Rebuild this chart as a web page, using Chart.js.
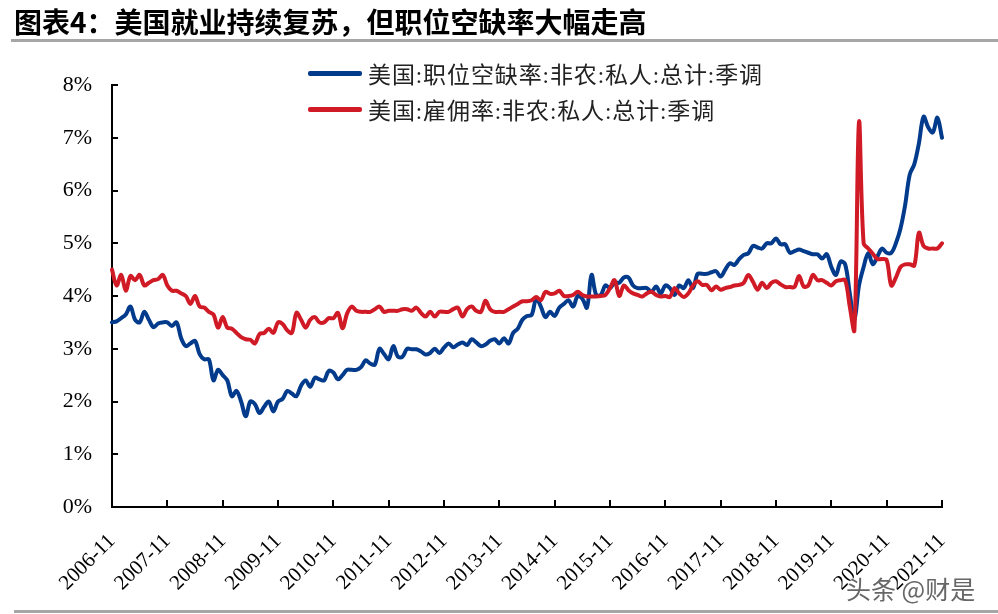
<!DOCTYPE html>
<html>
<head>
<meta charset="utf-8">
<script src="https://cdn.jsdelivr.net/npm/chart.js@4.4.0/dist/chart.umd.min.js"></script>
<style>
  html, body { margin: 0; padding: 0; background: #fff; }
  #wrap { position: relative; width: 998px; height: 614px; overflow: hidden; }
  #title {
    position: absolute; left: 14px; top: 1px;
    font-family: "Noto Sans CJK SC", sans-serif; font-weight: bold;
    font-size: 28px; color: #000; white-space: nowrap;
  }
  #topLine { position: absolute; left: 11px; right: 0; top: 39px; height: 3px; background: #a6a6a6; }
  #bottomLine { position: absolute; left: 14px; right: 0; top: 610px; height: 3px; background: #a6a6a6; }
  #legend { position: absolute; left: 308px; top: 55px; }
  .item { height: 36px; display: flex; align-items: center; white-space: nowrap; }
  .swatch { width: 54px; height: 5px; border-radius: 2px; margin-right: 6px; }
  .label { font-family: "Liberation Serif", "Noto Sans CJK SC", serif; font-size: 23px; color: #222; letter-spacing: 0.9px; }
  #mark {
    position: absolute; left: 846px; top: 570px;
    font-family: "Noto Sans CJK SC", sans-serif; font-size: 25px; color: #666;
    text-shadow: 0 0 2px #fff, 0 0 2px #fff, 0 0 3px #fff; white-space: nowrap;
  }
  #chartBox { position: absolute; left: 0; top: 0; width: 998px; height: 614px; }
</style>
</head>
<body>
<div id="wrap">
  <div id="chartBox"><canvas id="chart" width="998" height="614"></canvas></div>
  <div id="title">图表4：美国就业持续复苏，但职位空缺率大幅走高</div>
  <div id="topLine"></div>
  <div id="legend"></div>
  <div id="mark">头条 @财是</div>
  <div id="bottomLine"></div>
</div>
<script>
// months 2006-11 .. 2021-11
const startYear = 2006, startMonth = 11, monthCount = 181;
const months = [];
for (let i = 0; i < monthCount; i++) {
  const t = startMonth - 1 + i;
  months.push((startYear + Math.floor(t / 12)) + '-' + String(t % 12 + 1).padStart(2, '0'));
}
const yTicks = [0, 1, 2, 3, 4, 5, 6, 7, 8];

// 美国:职位空缺率:非农:私人:总计:季调 (%)
const openingsRate = [
  3.5, 3.52, 3.58, 3.65, 3.8, 3.55, 3.5, 3.7, 3.55, 3.41, 3.48, 3.5,
  3.5, 3.43, 3.5, 3.2, 3.05, 3.1, 3.15, 2.9, 2.8, 2.8, 2.4, 2.6,
  2.5, 2.4, 2.1, 2.2, 2.0, 1.72, 2.0, 1.95, 1.78, 1.9, 2.0, 1.81,
  2.0, 2.05, 2.2, 2.15, 2.1, 2.3, 2.4, 2.28, 2.45, 2.42, 2.4, 2.58,
  2.55, 2.42, 2.5, 2.6, 2.6, 2.6, 2.65, 2.78, 2.72, 2.7, 3.0, 2.9,
  2.8, 3.05, 2.85, 2.85, 3.0, 2.99, 2.99, 2.95, 2.89, 2.92, 3.0, 2.92,
  3.02, 3.1, 3.03, 3.08, 3.12, 3.07, 3.18, 3.12, 3.05, 3.08, 3.15, 3.18,
  3.1, 3.2, 3.1, 3.3, 3.38, 3.55, 3.62, 3.64, 3.95, 3.8, 3.6, 3.7,
  3.62, 3.78, 3.85, 3.92, 3.8, 4.0, 3.95, 3.78, 4.4, 4.02, 4.02, 4.2,
  4.15, 4.25, 4.25, 4.35, 4.35, 4.2, 4.15, 4.15, 4.15, 4.08, 4.18, 4.05,
  4.2, 4.15, 4.02, 4.2, 4.15, 4.3, 4.15, 4.42, 4.42, 4.42, 4.45, 4.47,
  4.37, 4.5, 4.62, 4.59, 4.7, 4.78, 4.81, 4.95, 4.92, 4.9, 5.0, 5.0,
  5.09, 4.98, 4.98, 4.82, 4.85, 4.88, 4.85, 4.82, 4.79, 4.79, 4.71, 4.79,
  4.55, 4.4, 4.65, 4.6, 4.05, 3.55, 4.2, 4.55, 4.81, 4.6, 4.75, 4.9,
  4.82, 4.82, 5.0, 5.28, 5.72, 6.3, 6.5, 6.9, 7.4, 7.2, 7.1, 7.38,
  7.0
];

// 美国:雇佣率:非农:私人:总计:季调 (%)
const hiresRate = [
  4.5, 4.2, 4.4, 4.1, 4.38, 4.3, 4.4, 4.2, 4.25, 4.3, 4.32, 4.4,
  4.2, 4.1, 4.1, 4.05, 4.0, 3.85, 4.0, 3.8, 3.78, 3.7, 3.65, 3.4,
  3.6, 3.4, 3.38, 3.3, 3.22, 3.18, 3.17, 3.1, 3.28, 3.3, 3.38, 3.3,
  3.5, 3.47, 3.35, 3.3, 3.68, 3.55, 3.4, 3.55, 3.6, 3.5, 3.5, 3.58,
  3.58, 3.68, 3.39, 3.67, 3.8, 3.72, 3.7, 3.7, 3.7, 3.75, 3.8, 3.7,
  3.72, 3.72, 3.72, 3.75, 3.75, 3.72, 3.78, 3.68, 3.61, 3.7, 3.61, 3.7,
  3.7, 3.7, 3.75, 3.78, 3.61, 3.75, 3.8, 3.72, 3.7, 3.91, 3.75, 3.7,
  3.7, 3.7, 3.75, 3.8, 3.85, 3.9, 3.9, 3.92, 3.98, 3.92, 4.08, 4.04,
  4.05, 4.1, 4.0, 4.0, 4.02, 4.08, 4.02, 3.99, 3.99, 3.99, 4.0, 4.02,
  4.15, 4.3, 4.0, 4.2, 4.11, 4.05, 4.02, 3.99, 4.05, 4.08, 4.02, 3.99,
  4.0, 3.98, 4.15, 4.05, 3.98, 4.05, 4.2, 4.28, 4.21, 4.21, 4.11, 4.18,
  4.12, 4.15, 4.17, 4.2, 4.21, 4.25, 4.4, 4.27, 4.12, 4.25, 4.15, 4.25,
  4.28, 4.22, 4.17, 4.17, 4.17, 4.38, 4.18, 4.2, 4.4, 4.3, 4.3, 4.25,
  4.2, 4.28, 4.3, 4.3, 3.8, 3.35, 7.3, 5.0, 4.9, 4.8, 4.7, 4.7,
  4.68, 4.2, 4.35, 4.55, 4.6, 4.6, 4.58, 5.2, 4.95, 4.9, 4.9, 4.9,
  5.0
];

const seriesNames = ['美国:职位空缺率:非农:私人:总计:季调', '美国:雇佣率:非农:私人:总计:季调'];
const seriesColors = ['#023b8c', '#d01a25'];

// inward tick marks on both axes
const inwardTicks = {
  id: 'inwardTicks',
  afterDraw(chart) {
    const { ctx, scales: { x, y } } = chart;
    ctx.save();
    ctx.strokeStyle = '#000';
    ctx.lineWidth = 2;
    ctx.beginPath();
    yTicks.forEach(v => {
      const py = Math.round(y.getPixelForValue(v));
      ctx.moveTo(x.left, py);
      ctx.lineTo(x.left + 6, py);
    });
    for (let i = 0; i < months.length; i += 12) {
      const px = Math.round(x.getPixelForValue(i));
      ctx.moveTo(px, y.bottom);
      ctx.lineTo(px, y.bottom - 7);
    }
    ctx.stroke();
    ctx.restore();
  }
};

new Chart(document.getElementById('chart'), {
  type: 'line',
  data: {
    labels: months,
    datasets: [
      { label: seriesNames[0], data: openingsRate, borderColor: seriesColors[0], order: 1 },
      { label: seriesNames[1], data: hiresRate, borderColor: seriesColors[1], order: 0 }
    ]
  },
  options: {
    responsive: false,
    animation: false,
    layout: { padding: { top: 85, right: 56, bottom: 0, left: 0 } },
    elements: {
      line: { borderWidth: 4, tension: 0.35, borderCapStyle: 'round', borderJoinStyle: 'round' },
      point: { radius: 0 }
    },
    plugins: { legend: { display: false }, tooltip: { enabled: false } },
    scales: {
      x: {
        offset: false,
        grid: { display: false, drawTicks: false },
        border: { display: true, color: '#000', width: 2 },
        afterFit(scale) { scale.height = 107; },
        ticks: {
          autoSkip: false, maxRotation: 45, minRotation: 45, padding: 22,
          color: '#000', font: { family: '"Liberation Serif", serif', size: 21 },
          callback(v, i) { return i % 12 === 0 ? months[i] : null; }
        }
      },
      y: {
        min: 0, max: 8,
        grid: { display: false, drawTicks: false },
        border: { display: true, color: '#000', width: 2 },
        afterFit(scale) { scale.width = 112; },
        ticks: {
          stepSize: 1, padding: 20,
          color: '#000', font: { family: '"Liberation Serif", serif', size: 22 },
          callback(v) { return v + '%'; }
        }
      }
    }
  },
  plugins: [inwardTicks]
});

// html legend
const legend = document.getElementById('legend');
seriesNames.forEach((name, i) => {
  const row = document.createElement('div');
  row.className = 'item';
  row.innerHTML = '<div class="swatch" style="background:' + seriesColors[i] + '"></div><span class="label">' + name + '</span>';
  legend.appendChild(row);
});
</script>
</body>
</html>
